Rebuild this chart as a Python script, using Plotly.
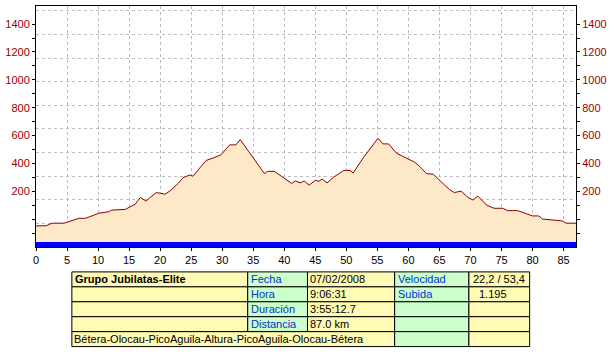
import plotly.graph_objects as go

# ---------------- data ----------------
km = [0, 1.6, 2.6, 4.5, 5.3, 6.9, 8.0, 10.1, 11.7, 12.2, 14.4, 15.2, 16.0, 16.8, 17.7, 18.4,
      19.4, 20.8, 21.6, 22.9, 23.7, 24.8, 25.3, 26.6, 27.4, 28.5, 29.8, 31.2, 32.2, 32.9,
      36.8, 37.3, 38.4, 39.7, 41.2, 41.8, 42.6, 43.2, 44.0, 45.0, 45.6, 46.1, 46.9, 48.0,
      49.6, 50.6, 51.1, 52.8, 55.1, 55.9, 56.8, 58.1, 58.6, 59.7, 61.0, 61.8, 62.9, 64.0,
      65.0, 66.6, 67.4, 68.5, 69.6, 70.4, 71.2, 72.6, 73.8, 75.2, 76.0, 77.6, 80.0, 81.0,
      81.6, 83.2, 84.8, 85.4, 87.0]
elev = [-48, -48, -29, -29, -18, 6, 6, 42, 53, 65, 70, 89, 108, 156, 130, 156,
        191, 179, 203, 256, 298, 317, 308, 379, 421, 438, 462, 533, 533, 571,
        327, 343, 343, 303, 256, 274, 260, 274, 244, 279, 272, 288, 260, 303,
        350, 350, 331, 445, 580, 540, 540, 473, 462, 438, 409, 379, 327, 322,
        279, 213, 191, 201, 156, 137, 165, 101, 78, 78, 61, 61, 23, 23,
        1, -6, -13, -29, -29]

x_tick_vals = list(range(0, 90, 5))
y_tick_vals = list(range(-100, 1500, 100))
y_tick_text = [str(v) if (v >= 200 and v % 200 == 0) else "" for v in y_tick_vals]

title_text = "Grupo Jubilatas-Elite"
info_labels_1 = ["Fecha", "Hora", "Duración", "Distancia"]
info_values_1 = ["07/02/2008", "9:06:31", "3:55:12.7", "87.0 km"]
info_labels_2 = ["Velocidad", "Subida", "", ""]
info_values_2 = ["22,2 / 53,4", "1.195", "", ""]
route_text = "Bétera-Olocau-PicoAguila-Altura-PicoAguila-Olocau-Bétera"

# ---------------- geometry / style ----------------
W, H = 614, 355
L, R, T, B = 34, 576, 5, 247
Y0, Y1 = -200, 1530
BAR_TOP = -165
X0, X1 = 0, 87
GRID_ROWS = 242 / 23.7

FONT = "Arial, 'Liberation Sans', sans-serif"
RED = "#990000"
LINE = "#8B0000"
FILL = "#FDE9C8"
BLUE = "#0000FF"
GRID = "#BDBDBD"
YEL = "#FFFAB4"
GRN = "#CCFFCC"
LBL = "#0033CC"


def px(xp):
    return (xp - L) / (R - L)


def py(yp):
    return (B - yp) / (B - T)


fig = go.Figure()

# baseline (bottom of axis)
fig.add_trace(go.Scatter(x=[X0, X1], y=[Y0, Y0], mode="lines", line=dict(width=0),
                         hoverinfo="skip", showlegend=False))
# blue band
fig.add_trace(go.Scatter(x=[X0, X1], y=[BAR_TOP, BAR_TOP], mode="lines", line=dict(width=0),
                         fill="tonexty", fillcolor=BLUE, hoverinfo="skip", showlegend=False))
# profile
fig.add_trace(go.Scatter(x=km, y=elev, mode="lines", line=dict(color=LINE, width=1),
                         fill="tonexty", fillcolor=FILL, showlegend=False))
# helper traces for the overlay axes
fig.add_trace(go.Scatter(x=[None], y=[None], yaxis="y2", showlegend=False, hoverinfo="skip"))
fig.add_trace(go.Scatter(x=[None], y=[None], yaxis="y3", showlegend=False, hoverinfo="skip"))

tickfont = dict(family=FONT, size=11, color=RED)

fig.update_layout(
    width=W, height=H,
    margin=dict(l=L, r=W - R, t=T, b=H - B, pad=0),
    paper_bgcolor="white", plot_bgcolor="white",
    xaxis=dict(range=[X0, X1], tickvals=x_tick_vals, ticks="outside", ticklen=3,
               tickcolor="black", showline=True, linecolor="black", linewidth=1,
               mirror=True, showgrid=True, gridcolor=GRID, griddash="3px,3px",
               gridwidth=1, zeroline=False,
               tickfont=dict(family=FONT, size=11, color="black")),
    yaxis=dict(range=[Y0, Y1], tickvals=y_tick_vals, ticktext=y_tick_text,
               ticks="outside", ticklen=3, tickcolor="black", showline=True,
               linecolor="black", linewidth=1, showgrid=False, zeroline=False,
               tickfont=tickfont),
    yaxis2=dict(range=[Y0, Y1], overlaying="y", side="right", tickvals=y_tick_vals,
                ticktext=y_tick_text, ticks="outside", ticklen=3, tickcolor="black",
                showline=True, linecolor="black", linewidth=1, showgrid=False,
                zeroline=False, tickfont=tickfont),
    yaxis3=dict(range=[0, GRID_ROWS], overlaying="y", tick0=0, dtick=1,
                showticklabels=False, ticks="", showline=False, zeroline=False,
                showgrid=True, gridcolor=GRID, griddash="3px,3px", gridwidth=1),
)

# ---------------- info table ----------------
col_edges = [70, 246.5, 306.5, 394, 468.5, 529.5]
row_edges = [272, 287, 302, 317, 332, 347]
col_fill = [YEL, GRN, YEL, GRN, YEL]

shapes = []


def cell(c0, c1, r, color):
    shapes.append(dict(type="rect", xref="paper", yref="paper",
                       x0=px(col_edges[c0]), x1=px(col_edges[c1]),
                       y0=py(row_edges[r + 1]), y1=py(row_edges[r]),
                       fillcolor=color, line=dict(color="black", width=1), layer="above"))


for r in range(4):
    for c in range(5):
        cell(c, c + 1, r, col_fill[c])
cell(0, 3, 4, YEL)
cell(3, 4, 4, GRN)
cell(4, 5, 4, YEL)

annotations = []


def txt(x, r, s, color="black", anchor="left", bold=False):
    if not s:
        return
    annotations.append(dict(xref="paper", yref="paper", x=px(x),
                            y=py((row_edges[r] + row_edges[r + 1]) / 2),
                            text=f"<b>{s}</b>" if bold else s, showarrow=False,
                            xanchor=anchor, yanchor="middle",
                            font=dict(family=FONT, size=11, color=color)))


txt(71.5, 0, title_text, bold=True)
for r in range(4):
    txt(247.5, r, info_labels_1[r], LBL)
    txt(307.5, r, info_values_1[r])
    txt(395.5, r, info_labels_2[r], LBL)
txt(470.5, 0, info_values_2[0])
txt(493, 1, info_values_2[1], anchor="center")
txt(70.5, 4, route_text)

fig.update_layout(shapes=shapes, annotations=annotations)

fig.write_html("out.html")
